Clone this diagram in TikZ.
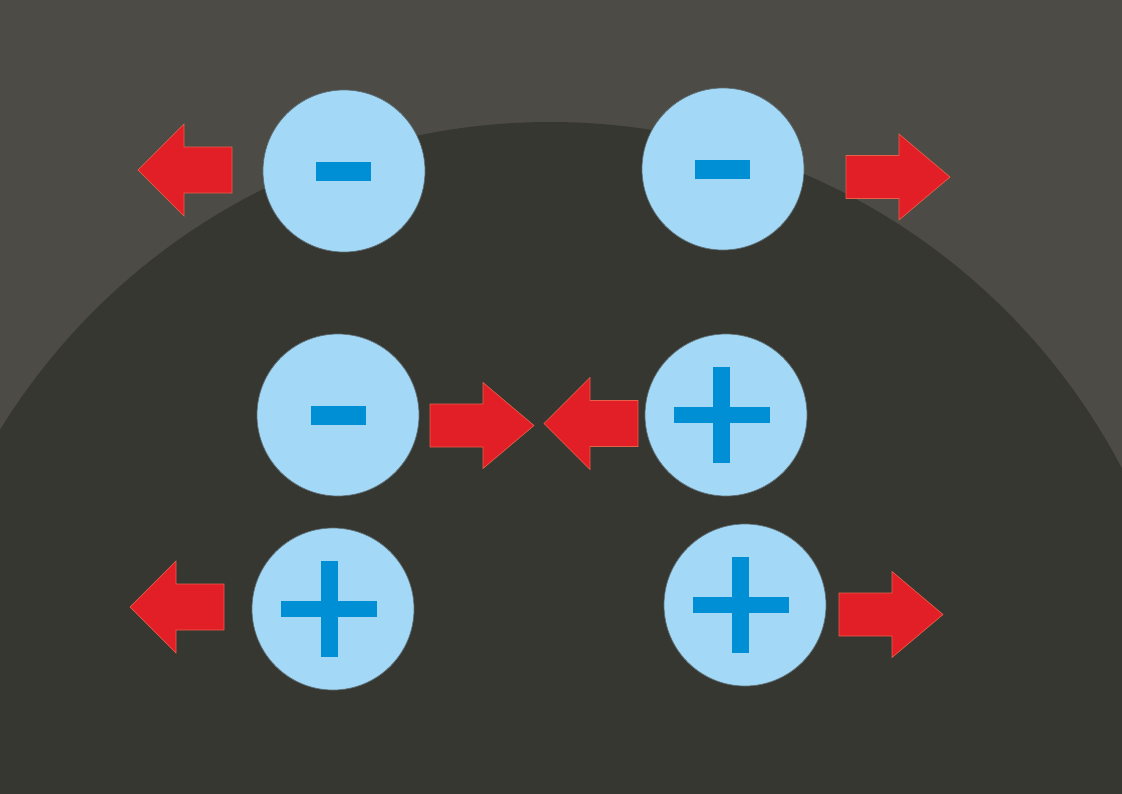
\documentclass[tikz,border=0pt]{standalone}
\definecolor{bgtop}{HTML}{4D4B46}
\definecolor{bgdark}{HTML}{373732}
\definecolor{ball}{HTML}{A3D9F6}
\definecolor{ballrim}{HTML}{5E6E74}
\definecolor{signblue}{HTML}{008FD4}
\definecolor{arrowred}{HTML}{E21F26}
\definecolor{arrowrim}{HTML}{E8604A}
\begin{document}
\begin{tikzpicture}[x=1pt,y=-1pt,
  charge/.style={circle, fill=ball, draw=ballrim, line width=0.7pt, minimum size=162pt, inner sep=0pt},
  minusbar/.style={rectangle, fill=signblue, minimum width=55pt, minimum height=19pt, inner sep=0pt},
  plush/.style={rectangle, fill=signblue, minimum width=96pt, minimum height=16pt, inner sep=0pt},
  plusv/.style={rectangle, fill=signblue, minimum width=17pt, minimum height=96pt, inner sep=0pt},
  redarrow/.style={fill=arrowred, draw=arrowrim, line width=0.6pt, line join=miter},
  leftarrow/.pic={\path[redarrow] (0,0) -- (46,-46) -- (46,-23) -- (94,-23) -- (94,23) -- (46,23) -- (46,46) -- cycle;},
  rightarrow/.pic={\path[redarrow] (0,0) -- (-51,-43) -- (-51,-21.5) -- (-104,-21.5) -- (-104,21.5) -- (-51,21.5) -- (-51,43) -- cycle;}
]
\useasboundingbox (0,0) rectangle (1122,793);
\fill[bgtop] (0,0) rectangle (1122,793);
\begin{scope}
  \clip (0,0) rectangle (1122,793);
  \fill[bgdark] (550,767) circle (645pt);
\end{scope}

% charges
\node[charge] (tl) at (344,171) {};
\node[charge] (tr) at (723,169) {};
\node[charge] (ml) at (338,415) {};
\node[charge] (mr) at (726,415) {};
\node[charge] (bl) at (333,609) {};
\node[charge] (br) at (745,605) {};

% signs
\node[minusbar] (tls) at (343.5,171.5) {};
\node[minusbar] (trs) at (722.5,169.5) {};
\node[minusbar] (mls) at (338,415.5) {};
\node[plush] (mrh) at (721.5,415) {};
\node[plusv] (mrv) at (721.5,415) {};
\node[plush] (blh) at (329,609) {};
\node[plusv] (blv) at (329,609) {};
\node[plush] (brh) at (740.5,605) {};
\node[plusv] (brv) at (740.5,605) {};

% arrows
\pic at (138,170) {leftarrow};
\pic at (544,423.5) {leftarrow};
\pic at (130,607) {leftarrow};
\pic at (950,177) {rightarrow};
\pic at (534,425.5) {rightarrow};
\pic at (943,614.5) {rightarrow};
\end{tikzpicture}
\end{document}
